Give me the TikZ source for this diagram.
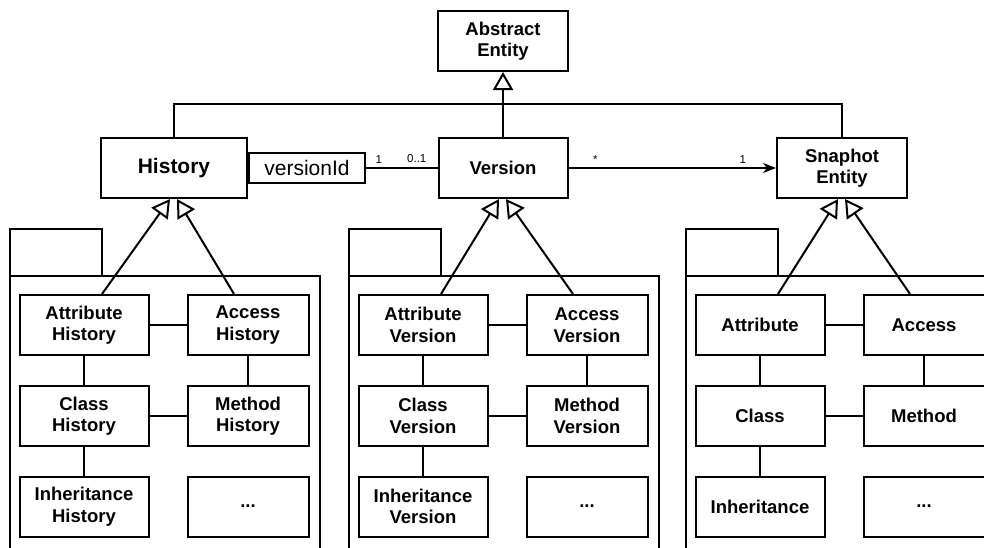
\documentclass[tikz,border=0pt]{standalone}
\usepackage{fontspec}
\setmainfont{Liberation Sans}
\usetikzlibrary{arrows.meta}

\tikzset{
  line/.style={line width=2pt},
  cls/.style={draw, line width=2pt, minimum width=129pt, minimum height=60pt,
    inner sep=0pt, align=center, font=\bfseries\fontsize{18.5}{21.5}\selectfont},
  gen/.style={line width=2pt, -{Triangle[open, length=18pt, width=20pt]}},
  nav/.style={line width=2pt, -{Stealth[length=13pt, width=10pt, inset=4pt]}},
  mult/.style={font=\fontsize{11.5}{12}\selectfont, inner sep=1pt}
}

\begin{document}
\begin{tikzpicture}[x=1pt, y=-1pt]
% picture frame, cut off at the right and at the bottom
\useasboundingbox (0,0) rectangle (984,547);
\clip (0,0) rectangle (984,547);

% top of the hierarchy
\node[cls, minimum width=130pt] (abstract) at (503,41) {Abstract\\Entity};
\node[cls, minimum width=146pt, font=\bfseries\fontsize{21}{24}\selectfont] (history) at (174,168) {History};
\node[draw, line width=2pt, minimum width=116pt, minimum height=30pt, inner sep=0pt,
  anchor=west, font=\fontsize{21}{24}\selectfont] (versionid) at (history.east) {versionId};
\node[cls] (version) at (503,168) {Version};
\node[cls, minimum width=130pt] (snapshot) at (842,168) {Snaphot\\Entity};

% generalization to the abstract entity
\coordinate (bar) at (503,104);
\draw[line] (history.north) |- (bar) -| (snapshot.north);
\draw[gen] (version.north) -- (abstract.south);

% associations
\draw[line] (versionid.east) -- (version.west)
  node[mult, above=3pt, pos=0.18] {1}
  node[mult, above=3pt, pos=0.71] {0..1};
\draw[nav] (version.east) -- (snapshot.west)
  node[mult, above=3pt, pos=0.13] {*}
  node[mult, above=3pt, pos=0.84] {1};

% the three packages
\foreach \L/\n/\p/\s in {10/H/history/\\History, 349/V/version/\\Version, 686/S/snapshot/{}} {
  \draw[line] (\L,229) rectangle ({\L+92},276);
  \draw[line] (\L,276) rectangle ({\L+310},570);
  \node[cls] (attr\n) at ({\L+74},325) {Attribute\s};
  \node[cls, minimum width=121pt] (access\n) at ({\L+238},325) {Access\s};
  \node[cls] (class\n) at ({\L+74},416) {Class\s};
  \node[cls, minimum width=121pt] (method\n) at ({\L+238},416) {Method\s};
  \node[cls] (inher\n) at ({\L+74},506.5) {Inheritance\s};
  \node[cls, minimum width=121pt] (more\n) at ({\L+238},506.5) {...};
  \draw[line] (attr\n) -- (access\n);
  \draw[line] (attr\n) -- (class\n);
  \draw[line] (access\n) -- (method\n);
  \draw[line] (class\n) -- (method\n);
  \draw[line] (class\n) -- (inher\n);
  \draw[gen] ([xshift=18pt]attr\n.north) -- ([xshift=-4pt]\p.south);
  \draw[gen] ([xshift=-14pt]access\n.north) -- ([xshift=3pt]\p.south);
}
\end{tikzpicture}
\end{document}
